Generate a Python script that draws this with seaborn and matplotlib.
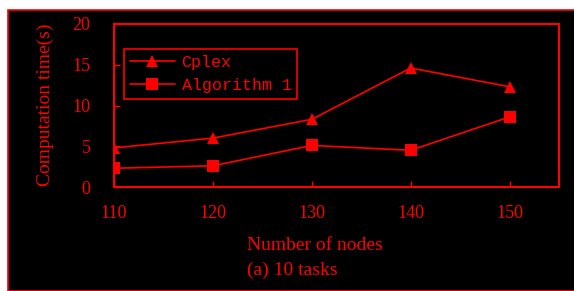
import matplotlib.pyplot as plt
import pandas as pd
import seaborn as sns
from matplotlib.patches import Rectangle

nodes = [110, 120, 130, 140, 150]
cplex = [4.8, 6.0, 8.3, 14.6, 12.3]
algorithm1 = [2.3, 2.6, 5.1, 4.5, 8.6]

RED = '#ff0000'

df = pd.DataFrame({
    'nodes': nodes * 2,
    'time': cplex + algorithm1,
    'method': ['Cplex'] * len(nodes) + ['Algorithm 1'] * len(nodes),
})

sns.set_style('ticks')
plt.rcParams['font.family'] = ['Liberation Serif', 'DejaVu Serif']

fig = plt.figure(figsize=(5.74, 2.91), dpi=100)
fig.patch.set_facecolor('white')
# black panel with red border, offset from the top-left corner
fig.patches.append(Rectangle((8 / 574, 0), 1.0, 1 - 9.5 / 291, transform=fig.transFigure,
                             facecolor='black', edgecolor=RED, linewidth=1.2, zorder=-10))

ax = fig.add_axes([114 / 574, 1 - 187 / 291, 445 / 574, 163 / 291])
ax.set_facecolor('black')

sns.lineplot(data=df, x='nodes', y='time', hue='method', style='method',
             markers={'Cplex': '^', 'Algorithm 1': 's'}, dashes=False,
             palette={'Cplex': RED, 'Algorithm 1': RED},
             linewidth=1.2, markersize=9, markeredgewidth=0, ax=ax)

ax.set_xlim(110, 155)
ax.set_ylim(0, 20)
ax.set_xticks(nodes)
ax.set_yticks([0, 5, 10, 15, 20])
ax.tick_params(direction='in', colors=RED, labelsize=13, length=4, width=1.0)
ax.tick_params(axis='x', pad=13)
ax.tick_params(axis='y', pad=17)
for s in ax.spines.values():
    s.set_color(RED)
    s.set_linewidth(1.5)
ax.set_xlabel('')
ax.set_ylabel('')

leg = ax.legend(loc='upper left', bbox_to_anchor=(10 / 445, 1 - 25 / 163),
                prop={'family': 'Liberation Mono', 'size': 12},
                frameon=True, fancybox=False, handlelength=2.7,
                borderpad=0.35, labelspacing=0.5, handletextpad=0.4, borderaxespad=0)
leg.get_frame().set_facecolor('black')
leg.get_frame().set_edgecolor(RED)
leg.get_frame().set_linewidth(1.2)
leg.get_frame().set_alpha(1)
for t in leg.get_texts():
    t.set_color(RED)

fig.text(45 / 574, 1 - 105 / 291, 'Computation time(s)', rotation=90,
         ha='center', va='center', color=RED, fontsize=14)
fig.text(247 / 574, 1 - 245 / 291, 'Number of nodes', ha='left', va='center',
         color=RED, fontsize=14)
fig.text(247 / 574, 1 - 270 / 291, '(a) 10 tasks', ha='left', va='center',
         color=RED, fontsize=14)

fig.savefig('out.png', dpi=100, facecolor=fig.get_facecolor())
